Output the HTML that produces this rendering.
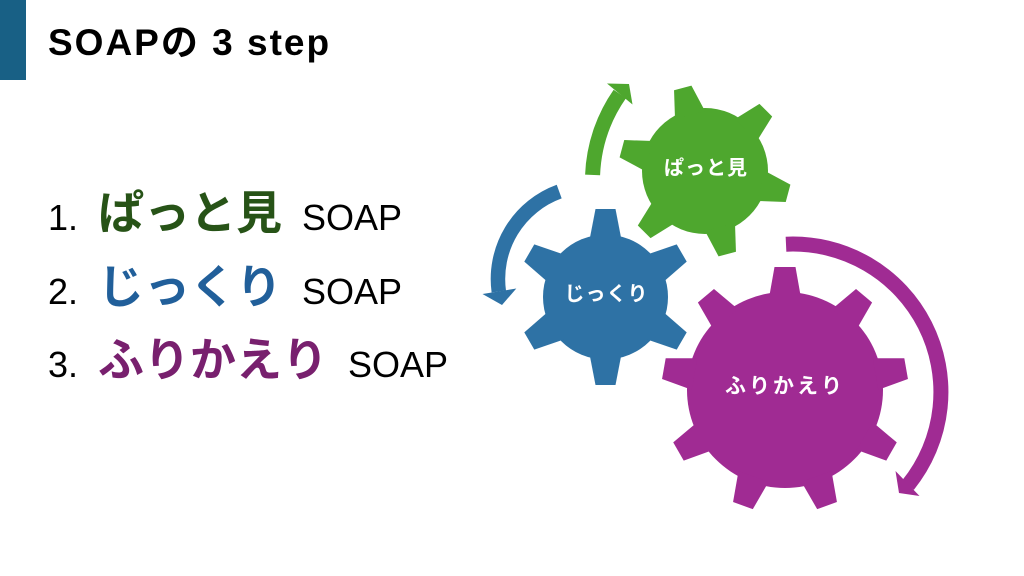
<!DOCTYPE html>
<html>
<head>
<meta charset="utf-8">
<style>
  html,body{margin:0;padding:0;background:#fff;}
  body{width:1024px;height:576px;overflow:hidden;position:relative;}
  svg{position:absolute;left:0;top:0;}
  .lat{font-family:"Liberation Sans","Noto Sans CJK JP",sans-serif;}
  .jp{font-family:"Liberation Sans","Noto Sans CJK JP",sans-serif;font-weight:bold;}
</style>
</head>
<body>
<svg width="1024" height="576" viewBox="0 0 1024 576" xmlns="http://www.w3.org/2000/svg">
  <defs>
    <!-- teeth pointing up, local origin at gear center -->
    <polygon id="tg" points="-15.5,-58 -9,-86 9,-86 15.5,-58"/>
    <polygon id="tb" points="-16,-57 -10,-88 10,-88 16,-57"/>
    <polygon id="tp" points="-16,-92 -10.5,-123 10.5,-123 16,-92"/>
  </defs>

  <!-- header bar -->
  <rect x="0" y="0" width="26" height="80" fill="#186085"/>
  <text x="48" y="55" class="lat" font-size="37" font-weight="bold" fill="#000" style="letter-spacing:2px">SOAPの 3 step</text>

  <!-- list -->
  <text x="48" y="230" class="lat" font-size="36" fill="#000">1.</text>
  <text x="98" y="229" class="jp" font-size="46" fill="#275317">ぱっと見</text>
  <text x="302" y="230" class="lat" font-size="36" fill="#000">SOAP</text>

  <text x="48" y="304" class="lat" font-size="36" fill="#000">2.</text>
  <text x="98" y="303" class="jp" font-size="46" fill="#215F9A">じっくり</text>
  <text x="302" y="304" class="lat" font-size="36" fill="#000">SOAP</text>

  <text x="48" y="377" class="lat" font-size="36" fill="#000">3.</text>
  <text x="98" y="376" class="jp" font-size="46" fill="#78206E">ふりかえり</text>
  <text x="348" y="377" class="lat" font-size="36" fill="#000">SOAP</text>

  <!-- green gear -->
  <g transform="translate(705,171)" fill="#4EA72E">
    <circle r="63"/>
    <use href="#tg" transform="rotate(-15)"/>
    <use href="#tg" transform="rotate(45)"/>
    <use href="#tg" transform="rotate(105)"/>
    <use href="#tg" transform="rotate(165)"/>
    <use href="#tg" transform="rotate(225)"/>
    <use href="#tg" transform="rotate(285)"/>
  </g>

  <!-- blue gear -->
  <g transform="translate(605.5,297)" fill="#2E72A5">
    <circle r="62.5"/>
    <use href="#tb" transform="rotate(0)"/>
    <use href="#tb" transform="rotate(60)"/>
    <use href="#tb" transform="rotate(120)"/>
    <use href="#tb" transform="rotate(180)"/>
    <use href="#tb" transform="rotate(240)"/>
    <use href="#tb" transform="rotate(300)"/>
  </g>

  <!-- purple gear -->
  <g transform="translate(785,390)" fill="#A02B93">
    <circle r="98"/>
    <use href="#tp" transform="rotate(0)"/>
    <use href="#tp" transform="rotate(40)"/>
    <use href="#tp" transform="rotate(80)"/>
    <use href="#tp" transform="rotate(120)"/>
    <use href="#tp" transform="rotate(160)"/>
    <use href="#tp" transform="rotate(200)"/>
    <use href="#tp" transform="rotate(240)"/>
    <use href="#tp" transform="rotate(280)"/>
    <use href="#tp" transform="rotate(320)"/>
  </g>

  <!-- green arrow -->
  <path d="M592.6,174.9 A152,152 0 0 1 619.8,94" fill="none" stroke="#4EA72E" stroke-width="15"/>
  <polygon points="607,83.5 629,84 632.5,104.5" fill="#4EA72E"/>

  <!-- blue arrow -->
  <path d="M559.2,191.6 A93,93 0 0 0 498.8,291.5" fill="none" stroke="#2E72A5" stroke-width="14.5"/>
  <polygon points="482.5,294 502,305 516.3,288.5" fill="#2E72A5"/>

  <!-- purple arrow -->
  <path d="M786,244.2 A148,148 0 0 1 908,485.1" fill="none" stroke="#A02B93" stroke-width="15"/>
  <polygon points="895.5,471 899,493 919.5,496" fill="#A02B93"/>

  <!-- gear labels -->
  <text x="706" y="174.5" class="jp" font-size="20" fill="#fff" text-anchor="middle" style="letter-spacing:1px">ぱっと見</text>
  <text x="606.5" y="300.5" class="jp" font-size="20" fill="#fff" text-anchor="middle" style="letter-spacing:1px">じっくり</text>
  <text x="785" y="393" class="jp" font-size="21" fill="#fff" text-anchor="middle" style="letter-spacing:3px">ふりかえり</text>
</svg>
</body>
</html>
